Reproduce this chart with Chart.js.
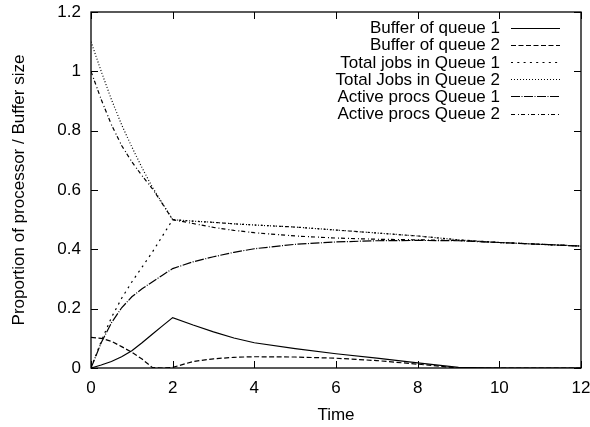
<!DOCTYPE html>
<html lang="en">
<head>
    <meta charset="UTF-8">
    <title>Queue proportions</title>
    <script src="https://cdn.jsdelivr.net/npm/chart.js"></script>
    <style>
        * {
            margin: 0;
            padding: 0;
            box-sizing: border-box;
        }
        body {
            background-color: #fff;
        }
        .chart-box {
            width: 590px;
            height: 427px;
        }
    </style>
</head>
<body>
    <div class="chart-box">
        <canvas id="queues"></canvas>
    </div>
    <script>
        var timeX = [0, 0.25, 0.5, 0.75, 1, 1.25, 1.5, 1.75, 2, 2.5, 3, 3.5, 4, 5, 6, 7, 8, 9, 10, 11, 12];

        var bufferQ1 = [0, 0.01, 0.022, 0.038, 0.058, 0.085, 0.114, 0.142, 0.17, 0.145, 0.122, 0.101, 0.085, 0.065, 0.048, 0.033, 0.017, 0.002, 0, 0, 0];
        var bufferQ2 = [0.103, 0.1, 0.09, 0.072, 0.053, 0.03, 0.002, 0, 0.002, 0.022, 0.031, 0.036, 0.038, 0.037, 0.033, 0.025, 0.013, 0, 0, 0, 0];
        var totalQ1 = [0, 0.09, 0.17, 0.235, 0.29, 0.34, 0.39, 0.445, 0.5, 0.495, 0.491, 0.486, 0.482, 0.475, 0.465, 0.455, 0.445, 0.432, 0.423, 0.417, 0.411];
        var totalQ2 = [1.1, 1.0, 0.905, 0.82, 0.745, 0.675, 0.61, 0.555, 0.5, 0.495, 0.491, 0.486, 0.482, 0.475, 0.465, 0.455, 0.445, 0.432, 0.423, 0.417, 0.411];
        var activeQ1 = [0, 0.085, 0.152, 0.203, 0.24, 0.267, 0.29, 0.313, 0.335, 0.358, 0.375, 0.39, 0.402, 0.417, 0.425, 0.429, 0.43, 0.429, 0.423, 0.417, 0.411];
        var activeQ2 = [1.0, 0.905, 0.82, 0.75, 0.695, 0.648, 0.605, 0.553, 0.5, 0.487, 0.474, 0.464, 0.456, 0.445, 0.438, 0.434, 0.432, 0.43, 0.423, 0.417, 0.411];

        var seriesNames = ['Buffer of queue 1', 'Buffer of queue 2', 'Total jobs in Queue 1', 'Total Jobs in Queue 2', 'Active procs Queue 1', 'Active procs Queue 2'];
        var seriesValues = [bufferQ1, bufferQ2, totalQ1, totalQ2, activeQ1, activeQ2];
        var dashes = [[], [5, 2.5], [2, 4.3], [1, 2], [9, 1.5, 1, 1.5], [4, 3, 1, 2]];

        var xTicks = [0, 2, 4, 6, 8, 10, 12];
        var yTicks = [0, 0.2, 0.4, 0.6, 0.8, 1, 1.2];

        var FONT = 'Liberation Sans, Arial, Helvetica, sans-serif';

        function toPoints(ys) {
            return timeX.map(function (x, i) { return { x: x, y: ys[i] }; });
        }

        var datasets = seriesValues.map(function (ys, i) {
            return {
                label: seriesNames[i],
                data: toPoints(ys),
                borderColor: '#000',
                borderWidth: 1.2,
                borderDash: dashes[i],
                pointRadius: 0,
                tension: 0,
                fill: false
            };
        });

        // box round the plot with gnuplot-style inward ticks on all four sides
        var framePlugin = {
            id: 'frame',
            afterDraw: function (chart) {
                var ctx = chart.ctx;
                var a = chart.chartArea;
                var xs = chart.scales.x, ys = chart.scales.y;
                var len = 7;
                ctx.save();
                ctx.strokeStyle = '#000';
                ctx.lineWidth = 1.3;
                ctx.strokeRect(a.left, a.top, a.right - a.left, a.bottom - a.top);
                ctx.lineWidth = 1;
                ctx.beginPath();
                xTicks.forEach(function (v) {
                    var px = Math.round(xs.getPixelForValue(v)) + 0.5;
                    ctx.moveTo(px, a.bottom); ctx.lineTo(px, a.bottom - len);
                    ctx.moveTo(px, a.top); ctx.lineTo(px, a.top + len);
                });
                yTicks.forEach(function (v) {
                    var py = Math.round(ys.getPixelForValue(v)) + 0.5;
                    ctx.moveTo(a.left, py); ctx.lineTo(a.left + len, py);
                    ctx.moveTo(a.right, py); ctx.lineTo(a.right - len, py);
                });
                ctx.stroke();
                ctx.restore();
            }
        };

        // key in the top right corner: label right-aligned, line sample after it
        var keyPlugin = {
            id: 'key',
            afterDraw: function (chart) {
                var ctx = chart.ctx;
                ctx.save();
                ctx.font = '17px ' + FONT;
                ctx.fillStyle = '#000';
                ctx.textAlign = 'right';
                ctx.textBaseline = 'middle';
                chart.data.datasets.forEach(function (ds, i) {
                    var y = 27.5 + i * 17.2;
                    ctx.fillText(ds.label, 500, y + 1);
                    ctx.beginPath();
                    ctx.setLineDash(ds.borderDash);
                    ctx.lineWidth = ds.borderWidth;
                    ctx.strokeStyle = ds.borderColor;
                    ctx.moveTo(511, Math.round(y) + 0.5);
                    ctx.lineTo(560, Math.round(y) + 0.5);
                    ctx.stroke();
                });
                ctx.restore();
            }
        };

        var ctx1 = document.getElementById('queues').getContext('2d');
        var queueChart = new Chart(ctx1, {
            type: 'line',
            data: { datasets: datasets },
            plugins: [framePlugin, keyPlugin],
            options: {
                responsive: true,
                maintainAspectRatio: false,
                animation: false,
                layout: { padding: { top: 12, right: 9, left: 0, bottom: 0 } },
                plugins: {
                    legend: { display: false },
                    tooltip: { enabled: false }
                },
                scales: {
                    x: {
                        type: 'linear',
                        min: 0,
                        max: 12,
                        grid: { display: false, drawTicks: false },
                        border: { display: false },
                        afterBuildTicks: function (s) {
                            s.ticks = xTicks.map(function (v) { return { value: v }; });
                        },
                        afterFit: function (s) {
                            s.height = 59;
                            s.paddingLeft = 0;
                            s.paddingRight = 0;
                        },
                        ticks: {
                            color: '#000',
                            font: { family: FONT, size: 17 },
                            padding: 10,
                            maxRotation: 0,
                            callback: function (v) { return String(v); }
                        },
                        title: {
                            display: true,
                            text: 'Time',
                            color: '#000',
                            font: { family: FONT, size: 17 },
                            padding: 1
                        }
                    },
                    y: {
                        min: 0,
                        max: 1.2,
                        grid: { display: false, drawTicks: false },
                        border: { display: false },
                        afterBuildTicks: function (s) {
                            s.ticks = yTicks.map(function (v) { return { value: v }; });
                        },
                        afterFit: function (s) {
                            s.width = 91;
                            s.paddingTop = 0;
                            s.paddingBottom = 0;
                        },
                        ticks: {
                            color: '#000',
                            font: { family: FONT, size: 17 },
                            padding: 10,
                            callback: function (v) { return String(Number(v.toFixed(1))); }
                        },
                        title: {
                            display: true,
                            text: 'Proportion of processor / Buffer size',
                            color: '#000',
                            font: { family: FONT, size: 17 },
                            padding: 9
                        }
                    }
                }
            }
        });
    </script>
</body>
</html>
